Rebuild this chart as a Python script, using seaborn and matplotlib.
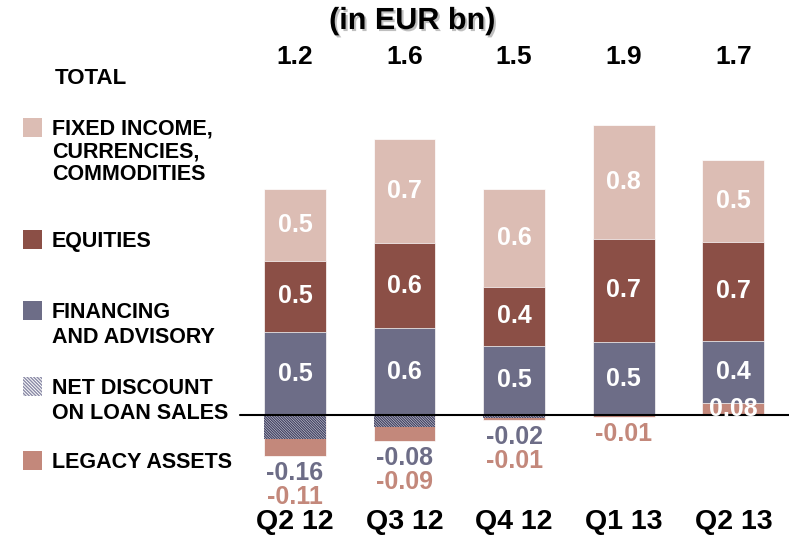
import numpy as np
import pandas as pd
import seaborn as sns
import matplotlib.pyplot as plt
import matplotlib.patheffects as pe
from matplotlib.patches import Rectangle
from matplotlib.transforms import blended_transform_factory

# values in EUR bn
quarters = ["Q2 12", "Q3 12", "Q4 12", "Q1 13", "Q2 13"]
totals = ["1.2", "1.6", "1.5", "1.9", "1.7"]
financing = [0.548, 0.574, 0.457, 0.483, 0.41]
equities = [0.475, 0.567, 0.393, 0.684, 0.658]
ficc = [0.475, 0.687, 0.647, 0.753, 0.541]
net_discount = [-0.16, -0.08, -0.02, 0.0, 0.0]
legacy = [-0.11, -0.09, -0.01, -0.01, 0.08]

C_FICC = "#dcbdb4"
C_EQ = "#8b4f46"
C_FIN = "#6d6d87"
C_LEG = "#c3887b"
C_HATCH = "#444465"

W, H = 789, 537
sns.set_theme(style="white")
plt.rcParams["font.family"] = ["Liberation Sans", "DejaVu Sans"]
plt.rcParams["hatch.linewidth"] = 1.0

fig = plt.figure(figsize=(W / 100, H / 100), dpi=100)
ax = fig.add_axes([0, 0, 1, 1])

df = pd.DataFrame({"quarter": quarters, "fin": financing, "eq": equities,
                   "ficc": ficc, "net": net_discount, "leg": legacy})
df["leg_pos"] = df["leg"].clip(lower=0)
df["leg_neg"] = df["leg"].clip(upper=0)
df["c1"] = df["leg_pos"]
df["c2"] = df["c1"] + df["fin"]
df["c3"] = df["c2"] + df["eq"]
df["c4"] = df["c3"] + df["ficc"]
df["n1"] = df["net"]
df["n2"] = df["net"] + df["leg_neg"]

# stacked look by overlaying cumulative bars, tallest first
bar_kw = dict(x="quarter", order=quarters, width=0.563, errorbar=None,
              saturation=1, ax=ax)
for col, color in [("c4", C_FICC), ("c3", C_EQ), ("c2", C_FIN),
                   ("c1", C_LEG), ("n2", C_LEG)]:
    sns.barplot(data=df, y=col, color=color, edgecolor="white",
                linewidth=0.5, **bar_kw)
sns.barplot(data=df, y="n1", color="white", edgecolor=C_HATCH, linewidth=0,
            hatch="\\" * 13, **bar_kw)

ax.set_xlim(-2.691, 4.508)
ax.set_ylim(-122 / 151, 415 / 151)
ax.axis("off")
ax.axhline(0, xmin=240 / W, xmax=1, color="black", lw=1.5, zorder=5)

# labels inside bars
for i, r in df.iterrows():
    segs = [(r["c1"], r["fin"]), (r["c2"], r["eq"]), (r["c3"], r["ficc"])]
    for bottom, val in segs:
        ax.text(i, bottom + val / 2, f"{val:.1f}", ha="center", va="center",
                color="white", fontsize=18, fontweight="bold", zorder=6)
    if r["leg_pos"] > 0:
        ax.text(i, r["leg_pos"] / 2, f"{r['leg_pos']:.2f}", ha="center",
                va="center", color="white", fontsize=18, fontweight="bold",
                zorder=6)
    # negative labels under the bar
    under = []
    if r["net"] < 0:
        under.append((f"{r['net']:.2f}", C_FIN))
    if r["leg_neg"] < 0:
        under.append((f"{r['leg_neg']:.2f}", C_LEG))
    for k, (txt, color) in enumerate(under):
        ax.annotate(txt, xy=(i, r["n2"]), xytext=(0, -17 - 24 * k),
                    textcoords="offset pixels", ha="center", va="center",
                    color=color, fontsize=18, fontweight="bold")

tr = blended_transform_factory(ax.transData, fig.transFigure)
for i, (q, t) in enumerate(zip(quarters, totals)):
    ax.text(i, 1 - 57 / H, t, transform=tr, ha="center", va="center",
            fontsize=19, fontweight="bold", color="black")
    ax.text(i, 1 - 522 / H, q, transform=tr, ha="center", va="center",
            fontsize=20.5, fontweight="bold", color="black")

fig.text(412 / W, 1 - 21 / H, "(in EUR bn)", ha="center", va="center",
         fontsize=22, fontweight="bold", color="black",
         path_effects=[pe.withSimplePatchShadow(offset=(1.5, -1.5),
                                                alpha=0.25)])
fig.text(55 / W, 1 - 78 / H, "TOTAL", ha="left", va="center",
         fontsize=16, fontweight="bold", color="black")

# left-hand legend
legend_items = [
    ("FIXED INCOME,\nCURRENCIES,\nCOMMODITIES", C_FICC, None, 129, 22.5),
    ("EQUITIES", C_EQ, None, 241, 25.5),
    ("FINANCING\nAND ADVISORY", C_FIN, None, 312, 25.5),
    ("NET DISCOUNT\nON LOAN SALES", "white", "#8a8aa6", 388, 25.5),
    ("LEGACY ASSETS", C_LEG, None, 462, 25.5),
]
for label, face, hatch_col, y0, step in legend_items:
    sq = Rectangle((23 / W, 1 - (y0 + 8) / H), 19 / W, 19 / H,
                   transform=fig.transFigure, facecolor=face,
                   edgecolor=hatch_col if hatch_col else face, lw=0,
                   hatch="\\" * 10 if hatch_col else None)
    fig.patches.append(sq)
    for k, line in enumerate(label.split("\n")):
        fig.text(52 / W, 1 - (y0 + step * k) / H, line, ha="left",
                 va="center", fontsize=15.5, fontweight="bold", color="black")

fig.savefig("out.png", dpi=100)
